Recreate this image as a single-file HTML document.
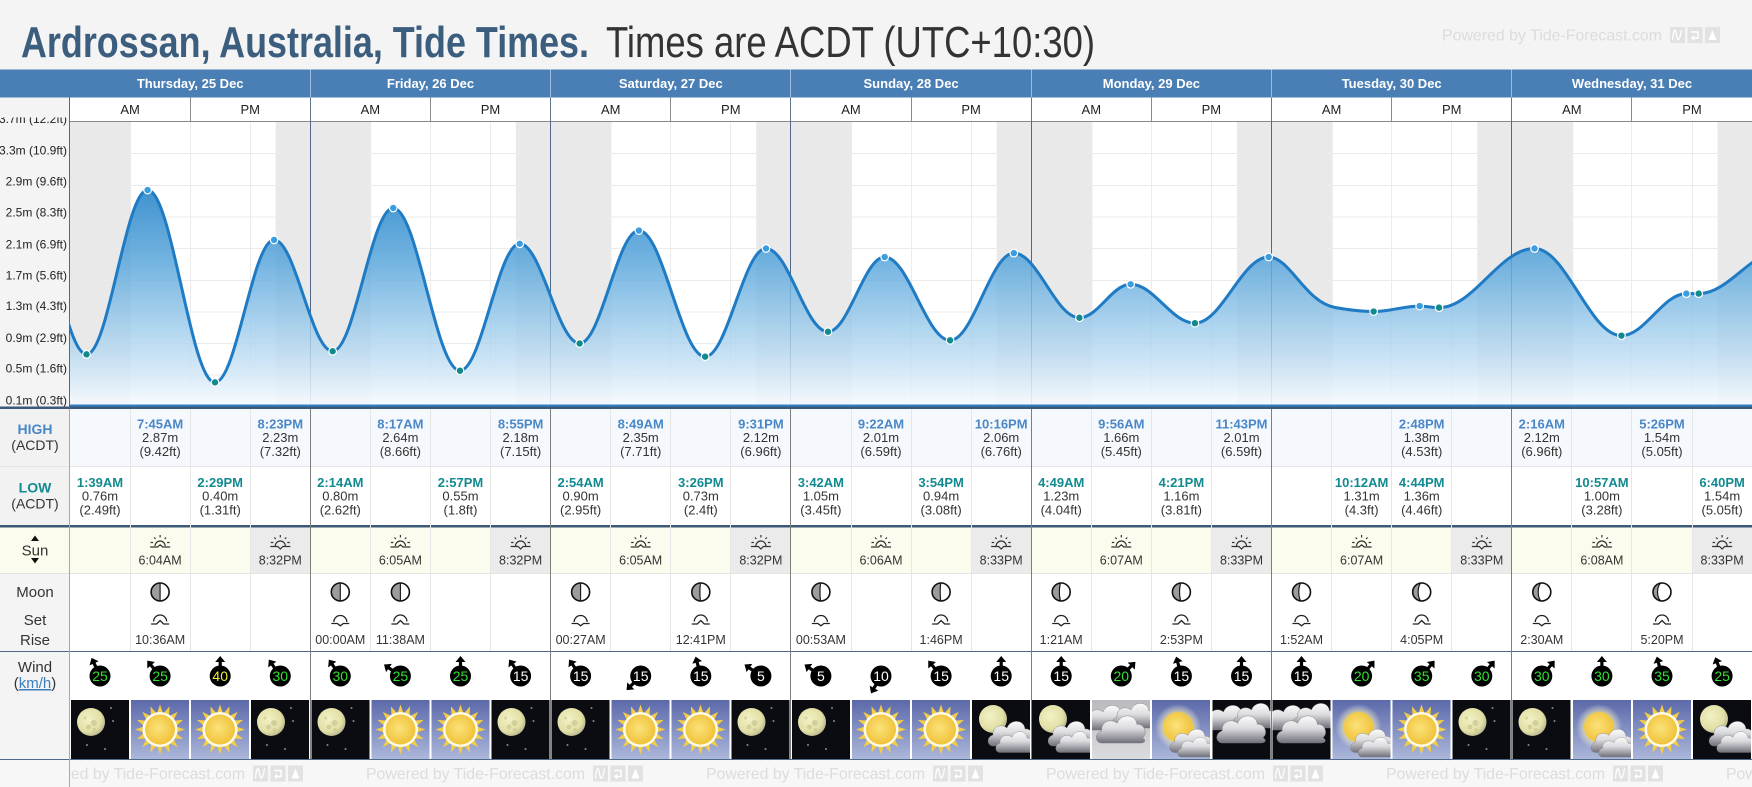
<!DOCTYPE html>
<html><head><meta charset="utf-8">
<style>
html,body{margin:0;padding:0;background:#fff;width:1752px;height:787px;overflow:hidden}
svg{display:block}
text{font-family:"Liberation Sans",Arial,sans-serif}
.yl{font-size:12px;fill:#222;text-anchor:end}
.dh{font-size:13px;font-weight:bold;fill:#fff;text-anchor:middle}
.ap{font-size:13px;fill:#222;text-anchor:middle}
.ht{font-size:13px;font-weight:bold;fill:#4a87c6;text-anchor:middle}
.lt{font-size:13px;font-weight:bold;fill:#128a91;text-anchor:middle}
.v{font-size:13px;fill:#333;text-anchor:middle}
.st{font-size:12.5px;fill:#333;text-anchor:middle}
.lab{font-size:15px;fill:#333;text-anchor:middle}
.wn{font-size:14px;text-anchor:middle}
.ft{font-size:16px;fill:#dcdcdc}
</style></head><body>
<svg xmlns="http://www.w3.org/2000/svg" width="1752" height="787" viewBox="0 0 1752 787">
<defs>
 <linearGradient id="fillG" gradientUnits="userSpaceOnUse" x1="0" y1="185" x2="0" y2="406">
  <stop offset="0" stop-color="#2a86c9" stop-opacity="0.92"/>
  <stop offset="0.35" stop-color="#5ba7dc" stop-opacity="0.85"/>
  <stop offset="0.7" stop-color="#a9d2ee" stop-opacity="0.8"/>
  <stop offset="1" stop-color="#f8fbff" stop-opacity="0.9"/>
 </linearGradient>
 <linearGradient id="dayG" x1="0" y1="0" x2="0" y2="1">
  <stop offset="0" stop-color="#5b69aa"/><stop offset="1" stop-color="#acb7da"/>
 </linearGradient>
 <linearGradient id="cdG" x1="0" y1="0" x2="0" y2="1">
  <stop offset="0" stop-color="#b9b9be"/><stop offset="1" stop-color="#dcdce0"/>
 </linearGradient>
 <linearGradient id="cloudG" x1="0" y1="0" x2="0" y2="1">
  <stop offset="0" stop-color="#fbfbfb"/><stop offset="0.45" stop-color="#dcdce0"/><stop offset="1" stop-color="#70707a"/>
 </linearGradient>
 <radialGradient id="moonG" cx="0.4" cy="0.4" r="0.65">
  <stop offset="0" stop-color="#f2f1c4"/><stop offset="0.7" stop-color="#e2e0a6"/><stop offset="1" stop-color="#b5b38a"/>
 </radialGradient>
 <radialGradient id="sunG" cx="0.45" cy="0.45" r="0.6">
  <stop offset="0" stop-color="#fbe27a"/><stop offset="1" stop-color="#efc035"/>
 </radialGradient>
 <radialGradient id="glowG">
  <stop offset="0" stop-color="#fff6b0" stop-opacity="1"/><stop offset="0.65" stop-color="#fff3a0" stop-opacity="0.6"/><stop offset="1" stop-color="#ffffff" stop-opacity="0"/>
 </radialGradient>
 <clipPath id="cc"><rect x="70" y="122" width="1682" height="284"/></clipPath>
 <clipPath id="lc"><rect x="0" y="117.5" width="69" height="295"/></clipPath>
 <clipPath id="fc"><rect x="70" y="760" width="1682" height="27"/></clipPath>
 <path id="cl" d="M7,30 C1,30 0,21 7,19 C6,11 15,7 21,12 C24,3 38,3 39,13 C46,12 49,22 44,25 C48,28 46,30 42,30 Z" fill="url(#cloudG)" stroke="#777" stroke-width="0.4"/>
 <path id="ar" d="M-1.6,-9V-14.5H1.6V-9ZM-5,-14L0,-20L5,-14Z" fill="#000"/>
 <polygon id="rays" points="25,0 15.69,3.12 23.1,9.57 13.3,8.89 17.68,17.68 8.89,13.3 9.57,23.1 3.12,15.69 0,25 -3.12,15.69 -9.57,23.1 -8.89,13.3 -17.68,17.68 -13.3,8.89 -23.1,9.57 -15.69,3.12 -25,0 -15.69,-3.12 -23.1,-9.57 -13.3,-8.89 -17.68,-17.68 -8.89,-13.3 -9.57,-23.1 -3.12,-15.69 0,-25 3.12,-15.69 9.57,-23.1 8.89,-13.3 17.68,-17.68 13.3,-8.89 23.1,-9.57 15.69,-3.12" fill="#f3cd45"/>
 <symbol id="wN" viewBox="0 0 58 59">
  <rect width="58" height="59" fill="#0b0c11"/>
  <circle cx="20" cy="22" r="14" fill="url(#moonG)"/>
  <circle cx="23" cy="23" r="3" fill="#d2d09a"/><circle cx="17.5" cy="27" r="2.4" fill="#d2d09a"/>
  <circle cx="23.5" cy="30" r="2" fill="#d2d09a"/><circle cx="14" cy="18" r="1.6" fill="#d8d6a2"/>
  <circle cx="40" cy="8" r="1" fill="#888"/><circle cx="42" cy="21" r="1" fill="#888"/>
  <circle cx="16" cy="45" r="1" fill="#888"/><circle cx="34" cy="49" r="1" fill="#888"/>
 </symbol>
 <symbol id="wS" viewBox="0 0 58 59">
  <rect width="58" height="59" fill="url(#dayG)"/>
  <use href="#rays" transform="translate(29,29.5)"/>
  <circle cx="29" cy="29.5" r="17.5" fill="#fffbe8"/>
  <circle cx="29" cy="29.5" r="15" fill="url(#sunG)"/>
 </symbol>
 <symbol id="wSC" viewBox="0 0 58 59">
  <rect width="58" height="59" fill="url(#dayG)"/>
  <circle cx="26" cy="27" r="23" fill="url(#glowG)"/>
  <circle cx="26" cy="27" r="15" fill="url(#sunG)"/>
  <use href="#cl" transform="translate(16,24) scale(0.95)"/>
  <use href="#cl" transform="translate(24,33) scale(0.8)"/>
 </symbol>
 <symbol id="wNC" viewBox="0 0 58 59">
  <rect width="58" height="59" fill="#0b0c11"/>
  <circle cx="21" cy="19" r="14" fill="url(#moonG)"/>
  <use href="#cl" transform="translate(14,16)"/>
  <use href="#cl" transform="translate(22,27) scale(0.85)"/>
 </symbol>
 <symbol id="wCN" viewBox="0 0 58 59">
  <rect width="58" height="59" fill="#0b0c11"/>
  <use href="#cl" transform="translate(-10,0)"/>
  <use href="#cl" transform="translate(18,-2)"/>
  <use href="#cl" transform="translate(2,10) scale(1.1)"/>
 </symbol>
 <symbol id="wCD" viewBox="0 0 58 59">
  <rect width="58" height="59" fill="url(#cdG)"/>
  <use href="#cl" transform="translate(-10,0)"/>
  <use href="#cl" transform="translate(18,-2)"/>
  <use href="#cl" transform="translate(2,10) scale(1.1)"/>
 </symbol>
 <symbol id="ph50" viewBox="-11 -11 22 22"><path d="M0,-9A9,9 0 0 0 0,9Z" fill="#9c9c9c"/><circle r="9" fill="none" stroke="#111" stroke-width="1.6"/><path d="M0,-9V9" stroke="#111" stroke-width="1.1"/></symbol>
 <symbol id="ph45" viewBox="-11 -11 22 22"><path d="M0,-9A9,9 0 0 0 0,9A0.9,9 0 0 1 0,-9Z" fill="#9c9c9c"/><circle r="9" fill="none" stroke="#111" stroke-width="1.6"/><path d="M0,9A0.9,9 0 0 1 0,-9" fill="none" stroke="#111" stroke-width="1.1"/></symbol>
 <symbol id="ph40" viewBox="-11 -11 22 22"><path d="M0,-9A9,9 0 0 0 0,9A1.8,9 0 0 1 0,-9Z" fill="#9c9c9c"/><circle r="9" fill="none" stroke="#111" stroke-width="1.6"/><path d="M0,9A1.8,9 0 0 1 0,-9" fill="none" stroke="#111" stroke-width="1.1"/></symbol>
 <symbol id="ph35" viewBox="-11 -11 22 22"><path d="M0,-9A9,9 0 0 0 0,9A2.7,9 0 0 1 0,-9Z" fill="#9c9c9c"/><circle r="9" fill="none" stroke="#111" stroke-width="1.6"/><path d="M0,9A2.7,9 0 0 1 0,-9" fill="none" stroke="#111" stroke-width="1.1"/></symbol>
 <symbol id="ph30" viewBox="-11 -11 22 22"><path d="M0,-9A9,9 0 0 0 0,9A3.6,9 0 0 1 0,-9Z" fill="#9c9c9c"/><circle r="9" fill="none" stroke="#111" stroke-width="1.6"/><path d="M0,9A3.6,9 0 0 1 0,-9" fill="none" stroke="#111" stroke-width="1.1"/></symbol>
 <symbol id="ph25" viewBox="-11 -11 22 22"><path d="M0,-9A9,9 0 0 0 0,9A4.5,9 0 0 1 0,-9Z" fill="#9c9c9c"/><circle r="9" fill="none" stroke="#111" stroke-width="1.6"/><path d="M0,9A4.5,9 0 0 1 0,-9" fill="none" stroke="#111" stroke-width="1.1"/></symbol>
 <symbol id="mrise" viewBox="-11 -8 22 16"><path d="M-6.5,1.5A6.5,6.5 0 0 1 6.5,1.5M-9,4H-3.5L0,0.5L3.5,4H9" fill="none" stroke="#222" stroke-width="1.3"/></symbol>
 <symbol id="mset" viewBox="-11 -8 22 16"><path d="M-6.5,2A6.5,6.5 0 0 1 6.5,2M-9,3.5H-3L0,5.8L3,3.5H9" fill="none" stroke="#222" stroke-width="1.3"/></symbol>
 <symbol id="srise" viewBox="-11 -10 22 16"><path d="M0,-9V-6.5M-6,-6.5L-4.5,-5M6,-6.5L4.5,-5M-9.5,-1.5H-7M9.5,-1.5H7M-5,2A5,5 0 0 1 5,2M-10,3H-2.5L0,0.8L2.5,3H10" fill="none" stroke="#333" stroke-width="1.2"/></symbol>
 <symbol id="sset" viewBox="-11 -10 22 16"><path d="M0,-9V-6.5M-6,-6.5L-4.5,-5M6,-6.5L4.5,-5M-9.5,-1.5H-7M9.5,-1.5H7M-5,2A5,5 0 0 1 5,2M-10,2.5H-2.5L0,5L2.5,2.5H10" fill="none" stroke="#333" stroke-width="1.2"/></symbol>
 <g id="pbi">
  <rect x="0" y="0" width="15" height="16" fill="#e2e2e2"/>
  <path d="M2.5,13C3.5,1 5.5,1 6.5,8C7.5,15 9.5,15 11.5,3" stroke="#fff" stroke-width="1.3" fill="none"/>
  <rect x="17.5" y="0" width="15" height="16" fill="#e2e2e2"/>
  <path d="M21,5H28V11H22M24,9L22,11L24,13" stroke="#fff" stroke-width="1.5" fill="none"/>
  <rect x="35" y="0" width="15" height="16" fill="#e2e2e2"/>
  <path d="M42.5,3L46.5,13H38.5Z" fill="#fff"/>
 </g>
</defs>

<!-- backgrounds -->
<rect width="1752" height="787" fill="#fff"/>
<rect x="0" y="0" width="1752" height="69.5" fill="#f4f4f4"/>
<rect x="0" y="69.5" width="1752" height="28" fill="#4a7fb5"/>
<rect x="0" y="97.5" width="69.5" height="310" fill="#f4f4f4"/>

<!-- title -->
<text x="21" y="57" font-size="44" font-weight="bold" fill="#3b5d7e" textLength="568" lengthAdjust="spacingAndGlyphs">Ardrossan, Australia, Tide Times.</text>
<text x="606" y="57" font-size="44" fill="#333" textLength="489" lengthAdjust="spacingAndGlyphs">Times are ACDT (UTC+10:30)</text>
<text x="1442" y="40.5" class="ft" textLength="220" lengthAdjust="spacingAndGlyphs">Powered by Tide-Forecast.com</text>
<use href="#pbi" x="1670" y="27"/>

<!-- day header -->
<path d="M310.5,69.5V97.5M550.5,69.5V97.5M790.5,69.5V97.5M1031.5,69.5V97.5M1271.5,69.5V97.5M1511.5,69.5V97.5" stroke="#9dbddd" stroke-width="1"/>
<text x="190.2" y="88" class="dh">Thursday, 25 Dec</text>
<text x="430.5" y="88" class="dh">Friday, 26 Dec</text>
<text x="670.8" y="88" class="dh">Saturday, 27 Dec</text>
<text x="911.1" y="88" class="dh">Sunday, 28 Dec</text>
<text x="1151.4" y="88" class="dh">Monday, 29 Dec</text>
<text x="1391.7" y="88" class="dh">Tuesday, 30 Dec</text>
<text x="1632" y="88" class="dh">Wednesday, 31 Dec</text>

<!-- AM/PM row -->
<rect x="70" y="97.5" width="1682" height="24" fill="#fff"/>
<path d="M190.5,97.5V121.5M430.5,97.5V121.5M670.5,97.5V121.5M911.5,97.5V121.5M1151.5,97.5V121.5M1391.5,97.5V121.5M1631.5,97.5V121.5" stroke="#8c8c8c" stroke-width="1"/>
<text x="130.1" y="114" class="ap">AM</text><text x="250.2" y="114" class="ap">PM</text>
<text x="370.4" y="114" class="ap">AM</text><text x="490.5" y="114" class="ap">PM</text>
<text x="610.7" y="114" class="ap">AM</text><text x="730.8" y="114" class="ap">PM</text>
<text x="851" y="114" class="ap">AM</text><text x="971.1" y="114" class="ap">PM</text>
<text x="1091.3" y="114" class="ap">AM</text><text x="1211.4" y="114" class="ap">PM</text>
<text x="1331.6" y="114" class="ap">AM</text><text x="1451.7" y="114" class="ap">PM</text>
<text x="1571.9" y="114" class="ap">AM</text><text x="1692" y="114" class="ap">PM</text>

<!-- chart -->
<g clip-path="url(#cc)">
 <rect x="70" y="122" width="1682" height="284" fill="#fff"/>
 <g fill="#e9e9e9">
  <rect x="70" y="122" width="60.74" height="284"/>
  <rect x="275.59" y="122" width="95.62" height="284"/>
  <rect x="515.89" y="122" width="95.62" height="284"/>
  <rect x="756.19" y="122" width="95.79" height="284"/>
  <rect x="996.66" y="122" width="95.78" height="284"/>
  <rect x="1236.96" y="122" width="95.78" height="284"/>
  <rect x="1477.26" y="122" width="95.95" height="284"/>
  <rect x="1717.56" y="122" width="34.44" height="284"/>
 </g>
 <path d="M130.5,122V406M190.5,122V406M250.5,122V406M370.5,122V406M430.5,122V406M490.5,122V406M610.5,122V406M670.5,122V406M730.5,122V406M851.5,122V406M911.5,122V406M971.5,122V406M1091.5,122V406M1151.5,122V406M1211.5,122V406M1331.5,122V406M1391.5,122V406M1451.5,122V406M1571.5,122V406M1631.5,122V406M1692.5,122V406" stroke="#ebebeb" stroke-width="1"/>
 <path d="M70,153.5H1752M70,185.5H1752M70,217H1752M70,248.5H1752M70,280.5H1752M70,312H1752M70,343.5H1752M70,375H1752" stroke="#ebebeb" stroke-width="1"/>
 <path d="M310.5,122V406M550.5,122V406M790.5,122V406M1031.5,122V406M1271.5,122V406M1511.5,122V406" stroke="#4e6a86" stroke-width="1"/>
 <path fill="url(#fillG)" d="M34.96,242.23 C53.73,242.23 67.75,354.33 86.52,354.33 C108.75,354.33 125.37,190.07 147.60,190.07 C172.14,190.07 190.47,382.36 215.01,382.36 C236.52,382.36 252.58,239.89 274.09,239.89 C295.41,239.89 311.34,351.22 332.66,351.22 C354.71,351.22 371.19,207.98 393.24,207.98 C417.54,207.98 435.69,370.68 459.99,370.68 C481.74,370.68 497.98,243.79 519.73,243.79 C541.54,243.79 557.83,343.43 579.64,343.43 C601.20,343.43 617.32,230.55 638.88,230.55 C662.99,230.55 681.02,356.67 705.13,356.67 C727.30,356.67 743.87,248.46 766.04,248.46 C788.58,248.46 805.41,331.76 827.95,331.76 C848.60,331.76 864.04,257.02 884.69,257.02 C908.50,257.02 926.29,340.32 950.10,340.32 C973.31,340.32 990.64,253.13 1013.85,253.13 C1037.72,253.13 1055.56,317.74 1079.43,317.74 C1098.07,317.74 1112.01,284.27 1130.65,284.27 C1154.04,284.27 1171.51,323.19 1194.90,323.19 C1221.75,323.19 1241.81,257.02 1268.66,257.02 C1290,257.02 1305,302 1335,307.5 C1352,310.5 1362,311.52 1373.63,311.52 C1390.40,311.52 1402.92,306.07 1419.69,306.07 C1426.73,306.07 1432.00,307.62 1439.04,307.62 C1473.79,307.62 1499.75,248.46 1534.50,248.46 C1566.15,248.46 1589.79,335.65 1621.44,335.65 C1645.07,335.65 1662.72,293.61 1686.35,293.61 C1690.85,293.61 1694.20,293.61 1698.70,293.61 C1729.07,293.61 1751.77,250.01 1782.14,250.01 L1782.14,407 L34.96,407 Z"/>
 <path fill="none" stroke="#1e7bc4" stroke-width="3" d="M34.96,242.23 C53.73,242.23 67.75,354.33 86.52,354.33 C108.75,354.33 125.37,190.07 147.60,190.07 C172.14,190.07 190.47,382.36 215.01,382.36 C236.52,382.36 252.58,239.89 274.09,239.89 C295.41,239.89 311.34,351.22 332.66,351.22 C354.71,351.22 371.19,207.98 393.24,207.98 C417.54,207.98 435.69,370.68 459.99,370.68 C481.74,370.68 497.98,243.79 519.73,243.79 C541.54,243.79 557.83,343.43 579.64,343.43 C601.20,343.43 617.32,230.55 638.88,230.55 C662.99,230.55 681.02,356.67 705.13,356.67 C727.30,356.67 743.87,248.46 766.04,248.46 C788.58,248.46 805.41,331.76 827.95,331.76 C848.60,331.76 864.04,257.02 884.69,257.02 C908.50,257.02 926.29,340.32 950.10,340.32 C973.31,340.32 990.64,253.13 1013.85,253.13 C1037.72,253.13 1055.56,317.74 1079.43,317.74 C1098.07,317.74 1112.01,284.27 1130.65,284.27 C1154.04,284.27 1171.51,323.19 1194.90,323.19 C1221.75,323.19 1241.81,257.02 1268.66,257.02 C1290,257.02 1305,302 1335,307.5 C1352,310.5 1362,311.52 1373.63,311.52 C1390.40,311.52 1402.92,306.07 1419.69,306.07 C1426.73,306.07 1432.00,307.62 1439.04,307.62 C1473.79,307.62 1499.75,248.46 1534.50,248.46 C1566.15,248.46 1589.79,335.65 1621.44,335.65 C1645.07,335.65 1662.72,293.61 1686.35,293.61 C1690.85,293.61 1694.20,293.61 1698.70,293.61 C1729.07,293.61 1751.77,250.01 1782.14,250.01"/>
 <g fill="#3a9de0" stroke="#fff" stroke-width="1.2">
  <circle cx="147.60" cy="190.07" r="3.8"/><circle cx="274.09" cy="239.89" r="3.8"/>
  <circle cx="393.24" cy="207.98" r="3.8"/><circle cx="519.73" cy="243.79" r="3.8"/>
  <circle cx="638.88" cy="230.55" r="3.8"/><circle cx="766.04" cy="248.46" r="3.8"/>
  <circle cx="884.69" cy="257.02" r="3.8"/><circle cx="1013.85" cy="253.13" r="3.8"/>
  <circle cx="1130.65" cy="284.27" r="3.8"/><circle cx="1268.66" cy="257.02" r="3.8"/>
  <circle cx="1419.69" cy="306.07" r="3.8"/><circle cx="1534.50" cy="248.46" r="3.8"/>
  <circle cx="1686.35" cy="293.61" r="3.8"/>
 </g>
 <g fill="#118a8e" stroke="#fff" stroke-width="1.2">
  <circle cx="86.52" cy="354.33" r="3.8"/><circle cx="215.01" cy="382.36" r="3.8"/>
  <circle cx="332.66" cy="351.22" r="3.8"/><circle cx="459.99" cy="370.68" r="3.8"/>
  <circle cx="579.64" cy="343.43" r="3.8"/><circle cx="705.13" cy="356.67" r="3.8"/>
  <circle cx="827.95" cy="331.76" r="3.8"/><circle cx="950.10" cy="340.32" r="3.8"/>
  <circle cx="1079.43" cy="317.74" r="3.8"/><circle cx="1194.90" cy="323.19" r="3.8"/>
  <circle cx="1373.63" cy="311.52" r="3.8"/><circle cx="1439.04" cy="307.62" r="3.8"/>
  <circle cx="1621.44" cy="335.65" r="3.8"/><circle cx="1698.70" cy="293.61" r="3.8"/>
 </g>
</g>
<path d="M70,121.5H1752" stroke="#8a8a8a" stroke-width="1"/>
<path d="M310.5,97.5V122M550.5,97.5V122M790.5,97.5V122M1031.5,97.5V122M1271.5,97.5V122M1511.5,97.5V122" stroke="#5f7890" stroke-width="1"/>

<!-- y labels -->
<g clip-path="url(#lc)">
 <text x="67" y="123" class="yl">3.7m (12.2ft)</text>
 <text x="67" y="154.3" class="yl">3.3m (10.9ft)</text>
 <text x="67" y="185.3" class="yl">2.9m (9.6ft)</text>
 <text x="67" y="216.6" class="yl">2.5m (8.3ft)</text>
 <text x="67" y="248.3" class="yl">2.1m (6.9ft)</text>
 <text x="67" y="279.3" class="yl">1.7m (5.6ft)</text>
 <text x="67" y="310" class="yl">1.3m (4.3ft)</text>
 <text x="67" y="342" class="yl">0.9m (2.9ft)</text>
 <text x="67" y="372.6" class="yl">0.5m (1.6ft)</text>
 <text x="67" y="404.3" class="yl">0.1m (0.3ft)</text>
</g>

<!-- bottom chart lines -->
<rect x="70" y="404.5" width="1682" height="2" fill="#2f7fc4"/>
<rect x="0" y="406.5" width="1752" height="2.5" fill="#3c5a77"/>

<!-- HIGH / LOW rows -->
<rect x="0" y="409" width="69.5" height="116" fill="#f2f2f2"/>
<rect x="70" y="409" width="1682" height="57" fill="#f5f9fd"/>
<path d="M0,466.5H1752" stroke="#e4e4e4" stroke-width="1"/>
<rect x="0" y="525" width="1752" height="2.5" fill="#3c5a77"/>

<!-- Sun row -->
<rect x="0" y="527.5" width="1752" height="45.5" fill="#fcfcee"/>
<g fill="#ebebeb">
 <rect x="250.2" y="527.5" width="60.1" height="45.5"/>
 <rect x="490.5" y="527.5" width="60.1" height="45.5"/>
 <rect x="730.8" y="527.5" width="60.1" height="45.5"/>
 <rect x="971.1" y="527.5" width="60.1" height="45.5"/>
 <rect x="1211.4" y="527.5" width="60.1" height="45.5"/>
 <rect x="1451.7" y="527.5" width="60.1" height="45.5"/>
 <rect x="1692" y="527.5" width="60" height="45.5"/>
</g>
<path d="M0,573.5H1752" stroke="#e4e4e4" stroke-width="1"/>

<!-- Moon / wind / weather left cells -->
<rect x="0" y="574" width="69.5" height="186" fill="#f4f4f4"/>
<path d="M0,651.5H1752" stroke="#4d6b88" stroke-width="1"/>

<!-- quarter lines -->
<path d="M130.5,409V651M190.5,409V651M250.5,409V651M370.5,409V651M430.5,409V651M490.5,409V651M610.5,409V651M670.5,409V651M730.5,409V651M851.5,409V651M911.5,409V651M971.5,409V651M1091.5,409V651M1151.5,409V651M1211.5,409V651M1331.5,409V651M1391.5,409V651M1451.5,409V651M1571.5,409V651M1631.5,409V651M1692.5,409V651" stroke="#e6e6e6" stroke-width="1"/>

<!-- left labels -->
<text x="35" y="434" font-size="14" font-weight="bold" fill="#4a87c6" text-anchor="middle">HIGH</text>
<text x="35" y="450" font-size="14" fill="#333" text-anchor="middle">(ACDT)</text>
<text x="35" y="492.5" font-size="14" font-weight="bold" fill="#128a91" text-anchor="middle">LOW</text>
<text x="35" y="508.5" font-size="14" fill="#333" text-anchor="middle">(ACDT)</text>
<path d="M31,541L35,535.5L39,541Z M31,558L39,558L35,563.5Z" fill="#111"/>
<text x="35" y="555.5" class="lab">Sun</text>
<text x="35" y="597" class="lab">Moon</text>
<text x="35" y="625" class="lab">Set</text>
<text x="35" y="645" class="lab">Rise</text>
<text x="35" y="672" class="lab">Wind</text>
<text x="35" y="688" class="lab">(<tspan fill="#3a7fc0" text-decoration="underline">km/h</tspan>)</text>

<!-- HIGH values -->
<g>
<text x="160.1" y="428.5" class="ht">7:45AM</text><text x="160.1" y="442" class="v">2.87m</text><text x="160.1" y="456" class="v">(9.42ft)</text>
<text x="280.3" y="428.5" class="ht">8:23PM</text><text x="280.3" y="442" class="v">2.23m</text><text x="280.3" y="456" class="v">(7.32ft)</text>
<text x="400.4" y="428.5" class="ht">8:17AM</text><text x="400.4" y="442" class="v">2.64m</text><text x="400.4" y="456" class="v">(8.66ft)</text>
<text x="520.6" y="428.5" class="ht">8:55PM</text><text x="520.6" y="442" class="v">2.18m</text><text x="520.6" y="456" class="v">(7.15ft)</text>
<text x="640.7" y="428.5" class="ht">8:49AM</text><text x="640.7" y="442" class="v">2.35m</text><text x="640.7" y="456" class="v">(7.71ft)</text>
<text x="760.9" y="428.5" class="ht">9:31PM</text><text x="760.9" y="442" class="v">2.12m</text><text x="760.9" y="456" class="v">(6.96ft)</text>
<text x="881" y="428.5" class="ht">9:22AM</text><text x="881" y="442" class="v">2.01m</text><text x="881" y="456" class="v">(6.59ft)</text>
<text x="1001.2" y="428.5" class="ht">10:16PM</text><text x="1001.2" y="442" class="v">2.06m</text><text x="1001.2" y="456" class="v">(6.76ft)</text>
<text x="1121.3" y="428.5" class="ht">9:56AM</text><text x="1121.3" y="442" class="v">1.66m</text><text x="1121.3" y="456" class="v">(5.45ft)</text>
<text x="1241.5" y="428.5" class="ht">11:43PM</text><text x="1241.5" y="442" class="v">2.01m</text><text x="1241.5" y="456" class="v">(6.59ft)</text>
<text x="1421.7" y="428.5" class="ht">2:48PM</text><text x="1421.7" y="442" class="v">1.38m</text><text x="1421.7" y="456" class="v">(4.53ft)</text>
<text x="1541.8" y="428.5" class="ht">2:16AM</text><text x="1541.8" y="442" class="v">2.12m</text><text x="1541.8" y="456" class="v">(6.96ft)</text>
<text x="1662" y="428.5" class="ht">5:26PM</text><text x="1662" y="442" class="v">1.54m</text><text x="1662" y="456" class="v">(5.05ft)</text>
</g>

<!-- LOW values -->
<g>
<text x="100" y="487" class="lt">1:39AM</text><text x="100" y="500.5" class="v">0.76m</text><text x="100" y="514.5" class="v">(2.49ft)</text>
<text x="220.2" y="487" class="lt">2:29PM</text><text x="220.2" y="500.5" class="v">0.40m</text><text x="220.2" y="514.5" class="v">(1.31ft)</text>
<text x="340.3" y="487" class="lt">2:14AM</text><text x="340.3" y="500.5" class="v">0.80m</text><text x="340.3" y="514.5" class="v">(2.62ft)</text>
<text x="460.5" y="487" class="lt">2:57PM</text><text x="460.5" y="500.5" class="v">0.55m</text><text x="460.5" y="514.5" class="v">(1.8ft)</text>
<text x="580.6" y="487" class="lt">2:54AM</text><text x="580.6" y="500.5" class="v">0.90m</text><text x="580.6" y="514.5" class="v">(2.95ft)</text>
<text x="700.8" y="487" class="lt">3:26PM</text><text x="700.8" y="500.5" class="v">0.73m</text><text x="700.8" y="514.5" class="v">(2.4ft)</text>
<text x="820.9" y="487" class="lt">3:42AM</text><text x="820.9" y="500.5" class="v">1.05m</text><text x="820.9" y="514.5" class="v">(3.45ft)</text>
<text x="941.1" y="487" class="lt">3:54PM</text><text x="941.1" y="500.5" class="v">0.94m</text><text x="941.1" y="514.5" class="v">(3.08ft)</text>
<text x="1061.2" y="487" class="lt">4:49AM</text><text x="1061.2" y="500.5" class="v">1.23m</text><text x="1061.2" y="514.5" class="v">(4.04ft)</text>
<text x="1181.4" y="487" class="lt">4:21PM</text><text x="1181.4" y="500.5" class="v">1.16m</text><text x="1181.4" y="514.5" class="v">(3.81ft)</text>
<text x="1361.6" y="487" class="lt">10:12AM</text><text x="1361.6" y="500.5" class="v">1.31m</text><text x="1361.6" y="514.5" class="v">(4.3ft)</text>
<text x="1421.7" y="487" class="lt">4:44PM</text><text x="1421.7" y="500.5" class="v">1.36m</text><text x="1421.7" y="514.5" class="v">(4.46ft)</text>
<text x="1601.9" y="487" class="lt">10:57AM</text><text x="1601.9" y="500.5" class="v">1.00m</text><text x="1601.9" y="514.5" class="v">(3.28ft)</text>
<text x="1722.1" y="487" class="lt">6:40PM</text><text x="1722.1" y="500.5" class="v">1.54m</text><text x="1722.1" y="514.5" class="v">(5.05ft)</text>
</g>

<!-- Sun row icons & times -->
<g>
<use href="#srise" x="149.1" y="534" width="22" height="16"/><text x="160.1" y="564.5" class="st">6:04AM</text>
<use href="#sset" x="269.3" y="534" width="22" height="16"/><text x="280.3" y="564.5" class="st">8:32PM</text>
<use href="#srise" x="389.4" y="534" width="22" height="16"/><text x="400.4" y="564.5" class="st">6:05AM</text>
<use href="#sset" x="509.6" y="534" width="22" height="16"/><text x="520.6" y="564.5" class="st">8:32PM</text>
<use href="#srise" x="629.7" y="534" width="22" height="16"/><text x="640.7" y="564.5" class="st">6:05AM</text>
<use href="#sset" x="749.9" y="534" width="22" height="16"/><text x="760.9" y="564.5" class="st">8:32PM</text>
<use href="#srise" x="870" y="534" width="22" height="16"/><text x="881" y="564.5" class="st">6:06AM</text>
<use href="#sset" x="990.2" y="534" width="22" height="16"/><text x="1001.2" y="564.5" class="st">8:33PM</text>
<use href="#srise" x="1110.3" y="534" width="22" height="16"/><text x="1121.3" y="564.5" class="st">6:07AM</text>
<use href="#sset" x="1230.5" y="534" width="22" height="16"/><text x="1241.5" y="564.5" class="st">8:33PM</text>
<use href="#srise" x="1350.6" y="534" width="22" height="16"/><text x="1361.6" y="564.5" class="st">6:07AM</text>
<use href="#sset" x="1470.8" y="534" width="22" height="16"/><text x="1481.8" y="564.5" class="st">8:33PM</text>
<use href="#srise" x="1590.9" y="534" width="22" height="16"/><text x="1601.9" y="564.5" class="st">6:08AM</text>
<use href="#sset" x="1711.1" y="534" width="22" height="16"/><text x="1722.1" y="564.5" class="st">8:33PM</text>
</g>

<!-- Moon row -->
<g>
<use href="#ph50" x="149.1" y="581" width="22" height="22"/><use href="#mrise" x="149.1" y="612" width="22" height="16"/><text x="160.1" y="644" class="st">10:36AM</text>
<use href="#ph50" x="329.3" y="581" width="22" height="22"/><use href="#mset" x="329.3" y="612" width="22" height="16"/><text x="340.3" y="644" class="st">00:00AM</text>
<use href="#ph50" x="389.4" y="581" width="22" height="22"/><use href="#mrise" x="389.4" y="612" width="22" height="16"/><text x="400.4" y="644" class="st">11:38AM</text>
<use href="#ph50" x="569.6" y="581" width="22" height="22"/><use href="#mset" x="569.6" y="612" width="22" height="16"/><text x="580.6" y="644" class="st">00:27AM</text>
<use href="#ph45" x="689.8" y="581" width="22" height="22"/><use href="#mrise" x="689.8" y="612" width="22" height="16"/><text x="700.8" y="644" class="st">12:41PM</text>
<use href="#ph45" x="809.9" y="581" width="22" height="22"/><use href="#mset" x="809.9" y="612" width="22" height="16"/><text x="820.9" y="644" class="st">00:53AM</text>
<use href="#ph45" x="930.1" y="581" width="22" height="22"/><use href="#mrise" x="930.1" y="612" width="22" height="16"/><text x="941.1" y="644" class="st">1:46PM</text>
<use href="#ph40" x="1050.2" y="581" width="22" height="22"/><use href="#mset" x="1050.2" y="612" width="22" height="16"/><text x="1061.2" y="644" class="st">1:21AM</text>
<use href="#ph40" x="1170.4" y="581" width="22" height="22"/><use href="#mrise" x="1170.4" y="612" width="22" height="16"/><text x="1181.4" y="644" class="st">2:53PM</text>
<use href="#ph35" x="1290.5" y="581" width="22" height="22"/><use href="#mset" x="1290.5" y="612" width="22" height="16"/><text x="1301.5" y="644" class="st">1:52AM</text>
<use href="#ph30" x="1410.7" y="581" width="22" height="22"/><use href="#mrise" x="1410.7" y="612" width="22" height="16"/><text x="1421.7" y="644" class="st">4:05PM</text>
<use href="#ph30" x="1530.8" y="581" width="22" height="22"/><use href="#mset" x="1530.8" y="612" width="22" height="16"/><text x="1541.8" y="644" class="st">2:30AM</text>
<use href="#ph25" x="1651" y="581" width="22" height="22"/><use href="#mrise" x="1651" y="612" width="22" height="16"/><text x="1662" y="644" class="st">5:20PM</text>
</g>

<!-- Wind row -->
<g>
<g transform="translate(100,676)"><use href="#ar" transform="rotate(-25)"/><circle r="10.5"/><text y="5" class="wn" fill="#2fe02f">25</text></g>
<g transform="translate(160.1,676)"><use href="#ar" transform="rotate(-40)"/><circle r="10.5"/><text y="5" class="wn" fill="#2fe02f">25</text></g>
<g transform="translate(220.2,676)"><use href="#ar" transform="rotate(0)"/><circle r="10.5"/><text y="5" class="wn" fill="#eeee3a">40</text></g>
<g transform="translate(280.3,676)"><use href="#ar" transform="rotate(-35)"/><circle r="10.5"/><text y="5" class="wn" fill="#2fe02f">30</text></g>
<g transform="translate(340.3,676)"><use href="#ar" transform="rotate(-35)"/><circle r="10.5"/><text y="5" class="wn" fill="#2fe02f">30</text></g>
<g transform="translate(400.4,676)"><use href="#ar" transform="rotate(-55)"/><circle r="10.5"/><text y="5" class="wn" fill="#2fe02f">25</text></g>
<g transform="translate(460.5,676)"><use href="#ar" transform="rotate(0)"/><circle r="10.5"/><text y="5" class="wn" fill="#2fe02f">25</text></g>
<g transform="translate(520.6,676)"><use href="#ar" transform="rotate(-35)"/><circle r="10.5"/><text y="5" class="wn" fill="#fff">15</text></g>
<g transform="translate(580.6,676)"><use href="#ar" transform="rotate(-35)"/><circle r="10.5"/><text y="5" class="wn" fill="#fff">15</text></g>
<g transform="translate(640.7,676)"><use href="#ar" transform="rotate(-135)"/><circle r="10.5"/><text y="5" class="wn" fill="#fff">15</text></g>
<g transform="translate(700.8,676)"><use href="#ar" transform="rotate(-15)"/><circle r="10.5"/><text y="5" class="wn" fill="#fff">15</text></g>
<g transform="translate(760.9,676)"><use href="#ar" transform="rotate(-55)"/><circle r="10.5"/><text y="5" class="wn" fill="#fff">5</text></g>
<g transform="translate(820.9,676)"><use href="#ar" transform="rotate(-55)"/><circle r="10.5"/><text y="5" class="wn" fill="#fff">5</text></g>
<g transform="translate(881,676)"><use href="#ar" transform="rotate(-150)"/><circle r="10.5"/><text y="5" class="wn" fill="#fff">10</text></g>
<g transform="translate(941.1,676)"><use href="#ar" transform="rotate(-40)"/><circle r="10.5"/><text y="5" class="wn" fill="#fff">15</text></g>
<g transform="translate(1001.2,676)"><use href="#ar" transform="rotate(0)"/><circle r="10.5"/><text y="5" class="wn" fill="#fff">15</text></g>
<g transform="translate(1061.2,676)"><use href="#ar" transform="rotate(0)"/><circle r="10.5"/><text y="5" class="wn" fill="#fff">15</text></g>
<g transform="translate(1121.3,676)"><use href="#ar" transform="rotate(45)"/><circle r="10.5"/><text y="5" class="wn" fill="#2fe02f">20</text></g>
<g transform="translate(1181.4,676)"><use href="#ar" transform="rotate(-15)"/><circle r="10.5"/><text y="5" class="wn" fill="#fff">15</text></g>
<g transform="translate(1241.5,676)"><use href="#ar" transform="rotate(0)"/><circle r="10.5"/><text y="5" class="wn" fill="#fff">15</text></g>
<g transform="translate(1301.5,676)"><use href="#ar" transform="rotate(0)"/><circle r="10.5"/><text y="5" class="wn" fill="#fff">15</text></g>
<g transform="translate(1361.6,676)"><use href="#ar" transform="rotate(40)"/><circle r="10.5"/><text y="5" class="wn" fill="#2fe02f">20</text></g>
<g transform="translate(1421.7,676)"><use href="#ar" transform="rotate(40)"/><circle r="10.5"/><text y="5" class="wn" fill="#2fe02f">35</text></g>
<g transform="translate(1481.8,676)"><use href="#ar" transform="rotate(40)"/><circle r="10.5"/><text y="5" class="wn" fill="#2fe02f">30</text></g>
<g transform="translate(1541.8,676)"><use href="#ar" transform="rotate(40)"/><circle r="10.5"/><text y="5" class="wn" fill="#2fe02f">30</text></g>
<g transform="translate(1601.9,676)"><use href="#ar" transform="rotate(0)"/><circle r="10.5"/><text y="5" class="wn" fill="#2fe02f">30</text></g>
<g transform="translate(1662,676)"><use href="#ar" transform="rotate(-15)"/><circle r="10.5"/><text y="5" class="wn" fill="#2fe02f">35</text></g>
<g transform="translate(1722.1,676)"><use href="#ar" transform="rotate(-20)"/><circle r="10.5"/><text y="5" class="wn" fill="#2fe02f">25</text></g>
</g>

<!-- Weather icons -->
<g>
<use href="#wN" x="71" y="700" width="58" height="59"/>
<use href="#wS" x="131" y="700" width="58" height="59"/>
<use href="#wS" x="191" y="700" width="58" height="59"/>
<use href="#wN" x="251" y="700" width="58" height="59"/>
<use href="#wN" x="311.5" y="700" width="58" height="59"/>
<use href="#wS" x="371.5" y="700" width="58" height="59"/>
<use href="#wS" x="431.5" y="700" width="58" height="59"/>
<use href="#wN" x="491.5" y="700" width="58" height="59"/>
<use href="#wN" x="551.5" y="700" width="58" height="59"/>
<use href="#wS" x="611.5" y="700" width="58" height="59"/>
<use href="#wS" x="671.5" y="700" width="58" height="59"/>
<use href="#wN" x="731.5" y="700" width="58" height="59"/>
<use href="#wN" x="792" y="700" width="58" height="59"/>
<use href="#wS" x="852" y="700" width="58" height="59"/>
<use href="#wS" x="912" y="700" width="58" height="59"/>
<use href="#wNC" x="972" y="700" width="58" height="59"/>
<use href="#wNC" x="1032" y="700" width="58" height="59"/>
<use href="#wCD" x="1092" y="700" width="58" height="59"/>
<use href="#wSC" x="1152" y="700" width="58" height="59"/>
<use href="#wCN" x="1212.5" y="700" width="58" height="59"/>
<use href="#wCN" x="1272.5" y="700" width="58" height="59"/>
<use href="#wSC" x="1332.5" y="700" width="58" height="59"/>
<use href="#wS" x="1392.5" y="700" width="58" height="59"/>
<use href="#wN" x="1452.5" y="700" width="58" height="59"/>
<use href="#wN" x="1512.5" y="700" width="58" height="59"/>
<use href="#wSC" x="1573" y="700" width="58" height="59"/>
<use href="#wS" x="1633" y="700" width="58" height="59"/>
<use href="#wNC" x="1693" y="700" width="58" height="59"/>
</g>

<!-- day lines in table -->
<path d="M310.5,409V759M550.5,409V759M790.5,409V759M1031.5,409V759M1271.5,409V759M1511.5,409V759" stroke="#7d7d7d" stroke-width="1"/>
<path d="M0,759.5H1752" stroke="#4d6b88" stroke-width="1"/>

<!-- footer -->
<rect x="0" y="760" width="1752" height="27" fill="#f7f7f7"/>
<g clip-path="url(#fc)">
 <text x="26" y="779" class="ft" textLength="219" lengthAdjust="spacingAndGlyphs">Powered by Tide-Forecast.com</text><use href="#pbi" x="253" y="765.5"/>
 <text x="366" y="779" class="ft" textLength="219" lengthAdjust="spacingAndGlyphs">Powered by Tide-Forecast.com</text><use href="#pbi" x="593" y="765.5"/>
 <text x="706" y="779" class="ft" textLength="219" lengthAdjust="spacingAndGlyphs">Powered by Tide-Forecast.com</text><use href="#pbi" x="933" y="765.5"/>
 <text x="1046" y="779" class="ft" textLength="219" lengthAdjust="spacingAndGlyphs">Powered by Tide-Forecast.com</text><use href="#pbi" x="1273" y="765.5"/>
 <text x="1386" y="779" class="ft" textLength="219" lengthAdjust="spacingAndGlyphs">Powered by Tide-Forecast.com</text><use href="#pbi" x="1613" y="765.5"/>
 <text x="1726" y="779" class="ft" textLength="219" lengthAdjust="spacingAndGlyphs">Powered by Tide-Forecast.com</text>
</g>

<!-- left column border -->
<path d="M69.5,97.5V409" stroke="#4e6a86" stroke-width="1"/>
<path d="M69.5,409V787" stroke="#a8a8a8" stroke-width="1"/>
</svg>
</body></html>
